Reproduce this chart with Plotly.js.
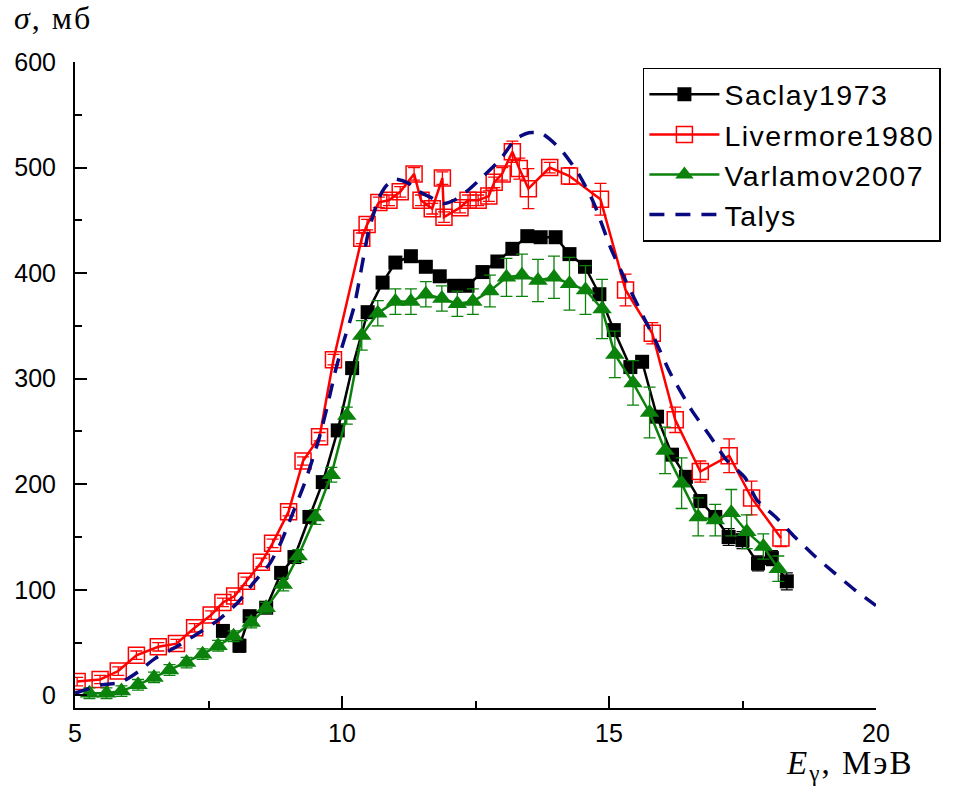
<!DOCTYPE html>
<html>
<head>
<meta charset="utf-8">
<script src="https://cdn.plot.ly/plotly-3.0.1.min.js"></script>
<style>
  html, body { margin: 0; padding: 0; background: #ffffff; }
  #chart { width: 961px; height: 787px; }
  .legendtext { letter-spacing: 1.5px; }
  .annotation-text { letter-spacing: 2px; }
</style>
</head>
<body>
<div id="chart"></div>
<script>
// ---- Data ----
const saclayE = [7.77, 8.08, 8.27, 8.58, 8.86, 9.11, 9.39, 9.64, 9.92, 10.19, 10.48, 10.76, 11.0, 11.29, 11.57, 11.83, 12.10, 12.35, 12.63, 12.91, 13.19, 13.47, 13.72, 14.0, 14.26, 14.55, 14.82, 15.09, 15.40, 15.62, 15.90, 16.18, 16.44, 16.71, 16.99, 17.24, 17.50, 17.79, 18.05, 18.33];
const saclaySigma = [61, 47, 75, 83, 116, 131, 169, 202, 251, 310, 363, 391, 410, 416, 406, 397, 388, 388, 401, 411, 423, 435, 434, 434, 418, 406, 380, 346, 311, 316, 264, 228, 207, 184, 169, 150, 147, 125, 130, 108];
const saclayErr = [5, 6, 5, 5, 5, 5, 5, 5, 5, 5, 5, 5, 5, 5, 5, 5, 5, 5, 5, 5, 5, 5, 5, 5, 5, 5, 5, 5, 5, 5, 5, 5, 5, 6, 6, 8, 8, 7, 7, 8];

const livermoreE = [5.04, 5.47, 5.81, 6.15, 6.56, 6.90, 7.24, 7.55, 7.77, 7.99, 8.21, 8.49, 8.70, 9.00, 9.27, 9.58, 9.84, 10.37, 10.47, 10.69, 10.88, 11.09, 11.35, 11.48, 11.69, 11.88, 11.91, 12.21, 12.36, 12.55, 12.75, 12.85, 13.0, 13.19, 13.32, 13.49, 13.89, 14.26, 14.84, 15.31, 15.81, 16.24, 16.71, 17.25, 17.67, 18.22];
const livermoreSigma = [13, 15, 23, 38, 46, 49, 64, 76, 88, 94, 108, 126, 144, 174, 222, 245, 318, 433, 446, 467, 469, 477, 494, 469, 461, 490, 453, 462, 469, 469, 473, 486, 494, 515, 499, 480, 500, 492, 470, 384, 343, 261, 212, 227, 187, 149];
const livermoreErr = [4, 4, 4, 4, 4, 4, 4, 4, 4, 4, 4, 4, 4, 4, 4, 4, 5, 5, 5, 5, 5, 5, 6, 5, 5, 6, 5, 5, 5, 5, 5, 5, 6, 10, 10, 19, 5, 8, 15, 15, 10, 12, 10, 16, 16, 8];

const varlamovE = [5.27, 5.59, 5.87, 6.18, 6.48, 6.77, 7.09, 7.39, 7.68, 7.97, 8.30, 8.58, 8.90, 9.18, 9.50, 9.80, 10.09, 10.37, 10.67, 11.0, 11.29, 11.57, 11.87, 12.16, 12.45, 12.77, 13.08, 13.37, 13.67, 13.97, 14.26, 14.56, 14.87, 15.11, 15.45, 15.76, 16.05, 16.36, 16.67, 16.99, 17.29, 17.58, 17.89, 18.17];
const varlamovSigma = [2, 2, 4, 10, 17, 24, 31, 39, 47, 56, 69, 83, 105, 132, 169, 209, 265, 341, 362, 373, 373, 380, 376, 371, 373, 383, 396, 398, 393, 396, 390, 384, 366, 323, 296, 268, 232, 201, 169, 166, 173, 155, 141, 120];
const varlamovErr = [5, 5, 5, 5, 5, 5, 5, 5, 5, 5, 5, 5, 6, 6, 7, 7, 8, 14, 12, 12, 12, 12, 12, 12, 12, 15, 18, 20, 20, 20, 25, 23, 28, 22, 21, 24, 22, 24, 18, 15, 22, 16, 12, 12];

const talysE = [5.0, 5.5, 5.85, 6.2, 6.5, 6.9, 7.25, 7.7, 8.05, 8.35, 8.65, 8.85, 9.05, 9.3, 9.58, 9.73, 9.88, 10.0, 10.23, 10.5, 10.7, 10.85, 11.0, 11.25, 11.45, 11.65, 11.9, 12.1, 12.35, 12.65, 12.97, 13.25, 13.5, 13.75, 14.1, 14.43, 14.71, 15.03, 15.31, 15.68, 15.87, 16.15, 16.55, 16.9, 17.2, 17.55, 17.77, 18.14, 18.48, 18.85, 19.22, 19.6, 20.0];
const talysSigma = [2, 10, 12, 23, 35, 46, 57, 72, 88, 107, 125, 144, 169, 201, 245, 275, 308, 330, 369, 440, 472, 484, 489, 485, 477, 472, 466, 469, 478, 492, 508, 527, 533, 532, 517, 494, 467, 424, 393, 355, 336, 305, 270, 245, 223, 206, 185, 168, 150, 132, 116, 100, 85];

const seriesNames = ['Saclay1973', 'Livermore1980', 'Varlamov2007', 'Talys'];
const xTickVals = [5, 10, 15, 20];
const yTickVals = [0, 100, 200, 300, 400, 500, 600];

// ---- Traces ----
const GREEN = '#0b820b';
const traces = [
  {
    name: seriesNames[0], x: saclayE, y: saclaySigma, type: 'scatter', mode: 'lines+markers',
    line: { color: '#000000', width: 2.5 },
    marker: { symbol: 'square', size: 14, color: '#000000' },
    error_y: { type: 'data', array: saclayErr, color: '#000000', thickness: 1.3, width: 6 }
  },
  {
    name: seriesNames[1], x: livermoreE, y: livermoreSigma, type: 'scatter', mode: 'lines+markers',
    line: { color: '#ff0000', width: 2.5 },
    marker: { symbol: 'square-open', size: 16, color: '#ff0000', line: { width: 1.5, color: '#ff0000' } },
    error_y: { type: 'data', array: livermoreErr, color: '#ff0000', thickness: 1.3, width: 6 }
  },
  {
    name: seriesNames[2], x: varlamovE, y: varlamovSigma, type: 'scatter', mode: 'lines+markers',
    line: { color: GREEN, width: 2.5 },
    marker: { symbol: 'triangle-up', size: 17, color: GREEN },
    error_y: { type: 'data', array: varlamovErr, color: GREEN, thickness: 1.3, width: 6 }
  },
  {
    name: seriesNames[3], x: talysE, y: talysSigma, type: 'scatter', mode: 'lines',
    line: { color: '#0a0a80', width: 3.5, dash: '15px,11px', shape: 'spline', smoothing: 0.6 }
  }
];

// ---- Layout ----
const layout = {
  width: 961, height: 787,
  margin: { l: 75, r: 85, t: 62, b: 79 },
  paper_bgcolor: '#ffffff', plot_bgcolor: '#ffffff',
  font: { family: '"Liberation Sans", Arial, sans-serif', color: '#000000', size: 25 },
  showlegend: true,
  legend: {
    x: 0.709, y: 0.991, xanchor: 'left', yanchor: 'top',
    bgcolor: '#ffffff', bordercolor: '#000000', borderwidth: 1.5,
    font: { family: '"Liberation Sans", Arial, sans-serif', size: 28.5, color: '#000000' },
    itemwidth: 70, tracegroupgap: 0
  },
  xaxis: {
    range: [5, 20], tickmode: 'array', tickvals: xTickVals, ticktext: xTickVals.map(String),
    ticks: 'inside', ticklen: 12, tickwidth: 2, tickcolor: '#000000',
    minor: { dtick: 2.5, tick0: 5, ticks: 'inside', ticklen: 7, tickwidth: 2, tickcolor: '#000000' },
    showline: true, linecolor: '#000000', linewidth: 2, mirror: false,
    showgrid: false, zeroline: false, ticklabelstandoff: 2,
    tickfont: { size: 25 }
  },
  yaxis: {
    range: [-12, 600], tickmode: 'array', tickvals: yTickVals, ticktext: yTickVals.map(String),
    ticks: 'inside', ticklen: 12, tickwidth: 2, tickcolor: '#000000',
    minor: { dtick: 50, tick0: 0, ticks: 'inside', ticklen: 7, tickwidth: 2, tickcolor: '#000000' },
    showline: true, linecolor: '#000000', linewidth: 2, mirror: false,
    showgrid: false, zeroline: false, ticklabelstandoff: 12,
    tickfont: { size: 25 }
  },
  annotations: [
    {
      text: '<i>σ</i>, мб', xref: 'paper', yref: 'paper', x: -0.079, y: 1.068,
      xanchor: 'left', yanchor: 'middle', showarrow: false,
      font: { family: '"Liberation Serif", "Times New Roman", serif', size: 32, color: '#000000' }
    },
    {
      text: '<i>E</i><sub>γ</sub>, МэВ', xref: 'paper', yref: 'paper', x: 1.049, y: -0.089,
      xanchor: 'right', yanchor: 'middle', showarrow: false,
      font: { family: '"Liberation Serif", "Times New Roman", serif', size: 33, color: '#000000' }
    }
  ]
};

Plotly.newPlot('chart', traces, layout, { displayModeBar: false, staticPlot: true });
</script>
</body>
</html>
